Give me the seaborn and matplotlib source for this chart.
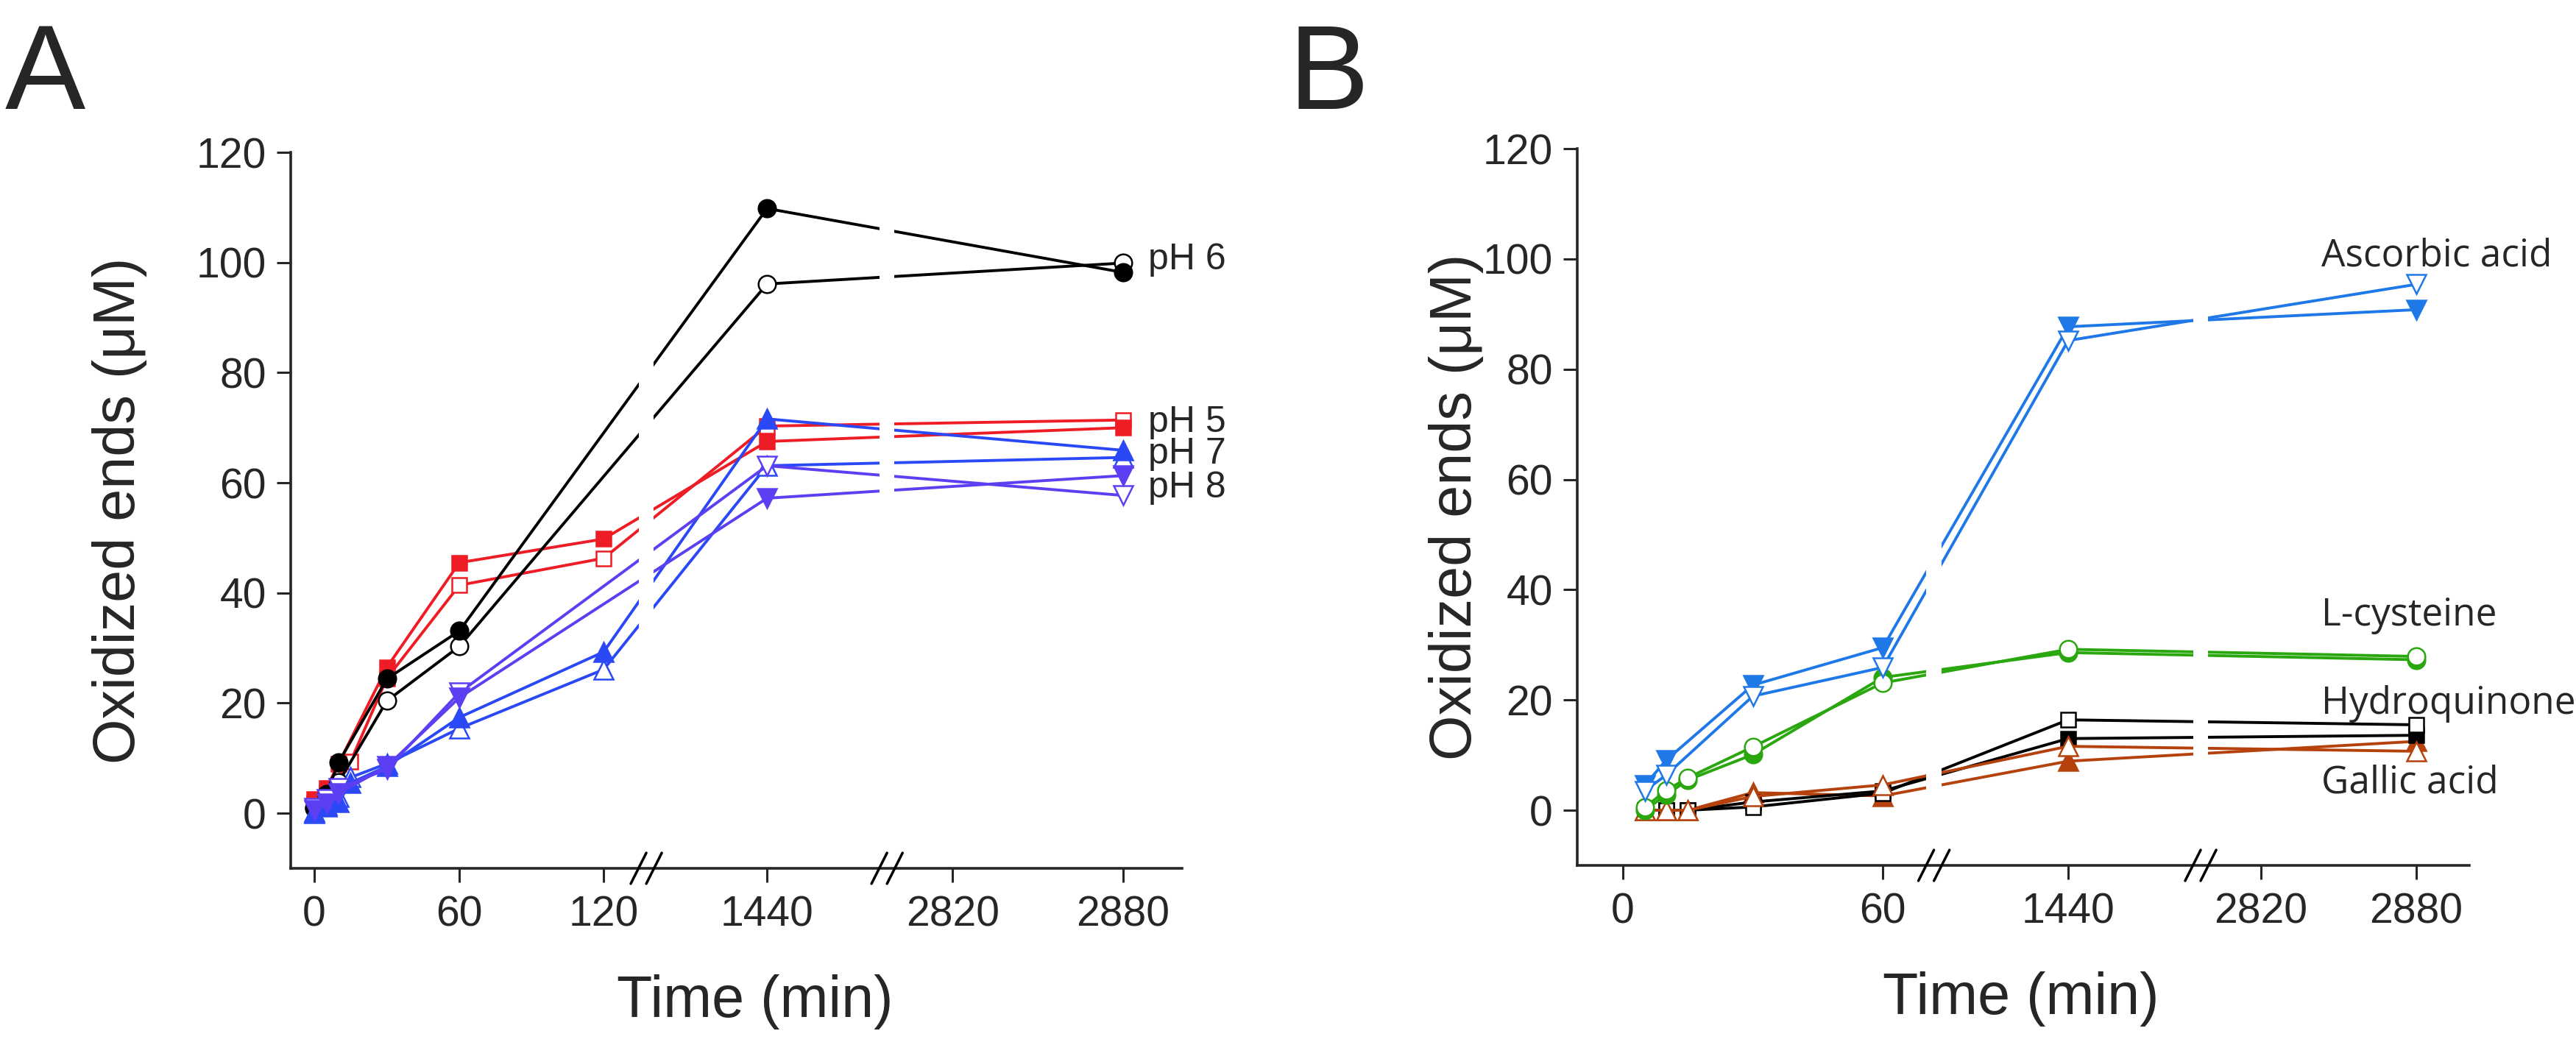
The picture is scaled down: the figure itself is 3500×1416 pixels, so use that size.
import matplotlib
matplotlib.use("Agg")
import matplotlib.pyplot as plt
import numpy as np
import seaborn as sns
from matplotlib.patches import Rectangle

# ---- panel A: oxidized ends at different pH ----
ph5_t_filled = [0, 5, 10, 30, 60, 120, 1440, 2880]
ph5_filled = [2.5, 4.5, 9.0, 26.5, 45.5, 49.8, 67.5, 70.0]
ph5_t_open = [0, 5, 15, 30, 60, 120, 1440, 2880]
ph5_open = [1.8, 3.8, 9.4, 24.5, 41.4, 46.3, 70.3, 71.4]

ph6_t = [0, 5, 10, 30, 60, 1440, 2880]
ph6_filled = [1.0, 3.5, 9.2, 24.4, 33.1, 109.8, 98.2]
ph6_open = [1.0, 2.9, 5.6, 20.4, 30.3, 96.1, 99.9]

ph7_t = [0, 5, 10, 15, 30, 60, 120, 1440, 2880]
ph7_filled = [0.3, 1.2, 2.0, 5.5, 8.5, 17.4, 29.3, 71.6, 65.9]
ph7_open = [0.0, 1.5, 3.0, 6.5, 9.0, 15.4, 26.1, 63.1, 64.6]

ph8_t = [0, 5, 10, 30, 60, 1440, 2880]
ph8_filled = [0.5, 1.8, 3.6, 8.5, 21.0, 57.2, 61.3]
ph8_open = [1.0, 2.5, 4.5, 8.0, 21.9, 63.1, 57.7]

labels_a = ["pH 6", "pH 5", "pH 7", "pH 8"]
label_y_a = [98.7, 69.2, 63.5, 57.4]

# ---- panel B: reducing agents ----
asc_t = [5, 10, 30, 60, 1440, 2880]
asc_filled = [4.5, 9.1, 22.7, 29.5, 87.7, 90.8]
asc_open = [3.5, 6.4, 20.7, 25.9, 85.2, 95.4]

agent_t = [5, 10, 15, 30, 60, 1440, 2880]
cys_filled = [0.0, 2.8, 5.5, 10.1, 24.1, 28.6, 27.3]
cys_open = [0.5, 3.6, 5.9, 11.5, 23.1, 29.2, 27.9]
hq_filled = [0.0, 0.0, 0.0, 1.5, 3.5, 13.0, 13.6]
hq_open = [0.0, 0.0, 0.0, 0.6, 3.1, 16.4, 15.5]
gal_filled = [0.0, 0.0, 0.0, 3.2, 2.6, 8.9, 12.5]
gal_open = [0.0, 0.0, 0.0, 2.5, 4.6, 11.6, 10.7]

labels_b = ["Ascorbic acid", "L-cysteine", "Hydroquinone", "Gallic acid"]
label_y_b = [98.7, 33.5, 17.5, 3.2]

# broken time axes: tick times and where they sit along the axis (axes fraction)
ticks_a = [0, 60, 120, 1440, 2820, 2880]
tick_pos_a = [0.0264, 0.1891, 0.3510, 0.5343, 0.7424, 0.9339]
breaks_a = [0.3988, 0.6689]

ticks_b = [0, 60, 1440, 2820, 2880]
tick_pos_b = [0.0512, 0.3424, 0.5503, 0.7665, 0.9406]
breaks_b = [0.3998, 0.6988]

RED = "#EE1C24"
BLUE = "#2A48F5"
PURPLE = "#5C3FF2"
SKY = "#1F78E8"
GREEN = "#2AA70E"
BROWN = "#B5420C"

SQ, CI, TRI = 15, 17, 19

sns.set_style("ticks")
plt.rcParams["font.family"] = ["Liberation Sans", "DejaVu Sans"]


def broken_scale(times, positions):
    times = np.asarray(times, float)
    positions = np.asarray(positions, float)
    lo = (positions[1] - positions[0]) / (times[1] - times[0])
    hi = (positions[-1] - positions[-2]) / (times[-1] - times[-2])

    def forward(t):
        t = np.asarray(t, float)
        p = np.interp(t, times, positions)
        p = np.where(t < times[0], positions[0] + (t - times[0]) * lo, p)
        p = np.where(t > times[-1], positions[-1] + (t - times[-1]) * hi, p)
        return p

    def inverse(p):
        p = np.asarray(p, float)
        t = np.interp(p, positions, times)
        t = np.where(p < positions[0], times[0] + (p - positions[0]) / lo, t)
        t = np.where(p > positions[-1], times[-1] + (p - positions[-1]) / hi, t)
        return t

    return forward, inverse


def series(ax, t, y, color, marker, filled, size):
    sns.lineplot(
        x=t,
        y=y,
        ax=ax,
        color=color,
        linewidth=2.8,
        marker=marker,
        markersize=size,
        markerfacecolor=color if filled else "white",
        markeredgecolor=color,
        markeredgewidth=1.8,
        estimator=None,
        errorbar=None,
        legend=False,
        clip_on=False,
    )


def style_axis(ax, ticks, tick_pos, breaks, xlabel_x):
    fwd, inv = broken_scale(ticks, tick_pos)
    ax.set_xscale("function", functions=(fwd, inv))
    ax.set_xlim(float(inv(0.0)), float(inv(1.0)))
    ax.set_xticks(ticks)
    ax.set_xticklabels([str(t) for t in ticks])
    ax.minorticks_off()

    ax.set_ylim(-10, 120)
    ax.set_yticks(range(0, 121, 20))

    sns.despine(ax=ax)
    for side in ["left", "bottom"]:
        ax.spines[side].set_linewidth(2.6)
        ax.spines[side].set_zorder(3)

    ax.tick_params(axis="both", length=14, width=2.2, labelsize=41)
    ax.tick_params(axis="x", pad=12)
    ax.tick_params(axis="y", pad=10)

    # white gaps in the lines and the // marks at each break
    for b in breaks:
        ax.add_patch(Rectangle(
            (b - 0.0085, 0.012), 0.017, 0.99,
            transform=ax.transAxes,
            facecolor="white",
            edgecolor="none",
            zorder=2.6,
        ))
        for s in (-1, 1):
            cx = b + s * 0.0087
            ax.plot(
                [cx - 0.0087, cx + 0.0087],
                [-0.0215, 0.0215],
                transform=ax.transAxes,
                color="black",
                linewidth=2.5,
                clip_on=False,
                zorder=4,
            )

    ax.set_xlabel("Time (min)", fontsize=57)
    ax.xaxis.set_label_coords(xlabel_x, -0.148)
    ax.set_ylabel("Oxidized ends (\u03bcM)", fontsize=57)


fig = plt.figure(figsize=(35, 14.16), dpi=100)

ax_a = fig.add_axes([0.1129, 0.1667, 0.3460, 0.6871])
series(ax_a, ph5_t_open, ph5_open, RED, "s", False, SQ)
series(ax_a, ph5_t_filled, ph5_filled, RED, "s", True, SQ)
series(ax_a, ph6_t, ph6_open, "black", "o", False, CI)
series(ax_a, ph6_t, ph6_filled, "black", "o", True, CI)
series(ax_a, ph7_t, ph7_open, BLUE, "^", False, TRI)
series(ax_a, ph7_t, ph7_filled, BLUE, "^", True, TRI)
series(ax_a, ph8_t, ph8_open, PURPLE, "v", False, TRI)
series(ax_a, ph8_t, ph8_filled, PURPLE, "v", True, TRI)
style_axis(ax_a, ticks_a, tick_pos_a, breaks_a, 0.521)
ax_a.yaxis.set_label_coords(-0.161, 0.5)

for label, y in zip(labels_a, label_y_a):
    ax_a.annotate(
        label,
        xy=(2880, y),
        xytext=(24.5, 0),
        textcoords="offset points",
        ha="left",
        va="baseline",
        fontsize=36,
        annotation_clip=False,
    )

ax_b = fig.add_axes([0.6123, 0.1695, 0.3463, 0.6878])
series(ax_b, agent_t, gal_filled, BROWN, "^", True, TRI)
series(ax_b, agent_t, hq_filled, "black", "s", True, SQ)
series(ax_b, agent_t, hq_open, "black", "s", False, SQ)
series(ax_b, agent_t, gal_open, BROWN, "^", False, TRI)
series(ax_b, agent_t, cys_filled, GREEN, "o", True, CI)
series(ax_b, agent_t, cys_open, GREEN, "o", False, CI)
series(ax_b, asc_t, asc_filled, SKY, "v", True, TRI)
series(ax_b, asc_t, asc_open, SKY, "v", False, TRI)
style_axis(ax_b, ticks_b, tick_pos_b, breaks_b, 0.497)
ax_b.yaxis.set_label_coords(-0.105, 0.5)

for label, y in zip(labels_b, label_y_b):
    ax_b.annotate(
        label,
        xy=(2880, y),
        xytext=(-93, 0),
        textcoords="offset points",
        ha="left",
        va="baseline",
        fontsize=37,
        family=["Open Sans", "DejaVu Sans"],
        annotation_clip=False,
    )

fig.text(0.002, 0.979, "A", fontsize=118, ha="left", va="top")
fig.text(0.500, 0.979, "B", fontsize=118, ha="left", va="top")

fig.savefig("out.png", dpi=100)
plt.close(fig)
